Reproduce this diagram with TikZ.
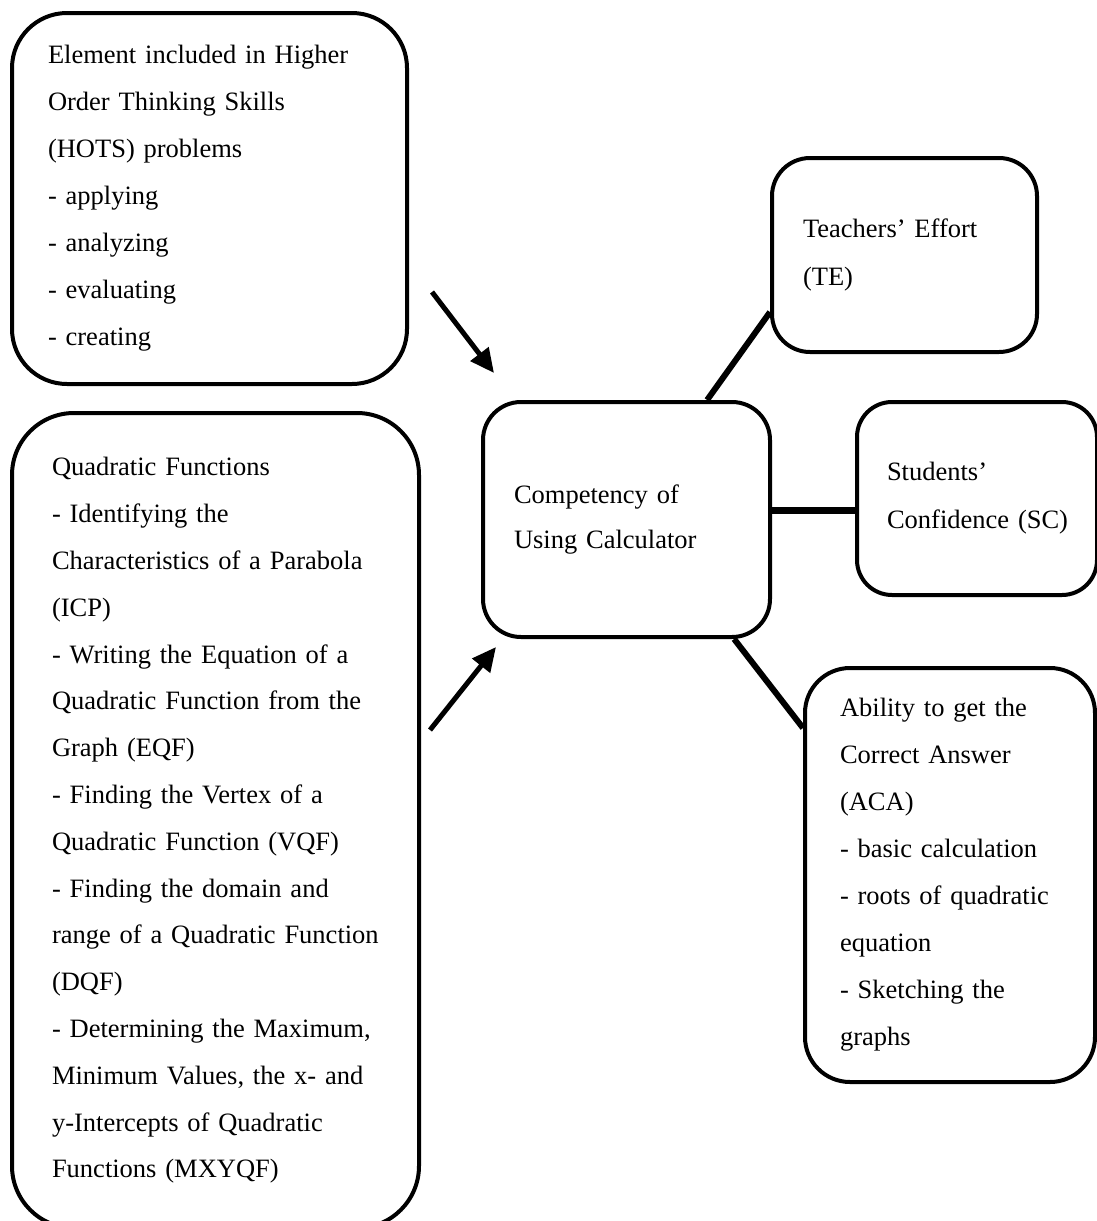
\documentclass[tikz,border=0pt]{standalone}
\usepackage{fontspec}
\setmainfont{Liberation Serif}
\usetikzlibrary{arrows.meta}
\begin{document}
\begin{tikzpicture}[x=1pt,y=-1pt,
  every node/.style={font=\fontsize{26.5}{47}\selectfont},
  card/.style={draw, line width=4pt, align=left, inner ysep=0pt},
  link/.style={line width=6pt},
  feed/.style={line width=5pt, -{Triangle[length=24pt,width=22pt]}}]
  \clip (0,0) rectangle (1097,1221);
  \fill[white] (0,0) rectangle (1097,1221);

  % left column: inputs
  \node[card, rounded corners=55pt, minimum width=395pt, minimum height=371pt,
        text width=323pt, inner xsep=36pt] (hots) at (209.5,198.5)
    {Element included in Higher\\Order Thinking Skills\\(HOTS) problems\\- applying\\- analyzing\\- evaluating\\- creating};
  \node[card, rounded corners=62pt, minimum width=407pt, minimum height=815pt,
        text width=327pt, inner xsep=40pt, font=\fontsize{26.5}{46.8}\selectfont] (quad) at (215.5,820.5)
    {Quadratic Functions\\- Identifying the\\\mbox{Characteristics of a Parabola}\\(ICP)\\- Writing the Equation of a\\\mbox{Quadratic Function from the}\\Graph (EQF)\\- Finding the Vertex of a\\\mbox{Quadratic Function (VQF)}\\- Finding the domain and\\\mbox{range of a Quadratic Function}\\(DQF)\\\mbox{- Determining the Maximum,}\\\mbox{Minimum Values, the x- and}\\y-Intercepts of Quadratic\\Functions (MXYQF)};

  % central concept
  \node[card, rounded corners=38pt, minimum width=287pt, minimum height=235pt,
        text width=225pt, inner xsep=31pt, font=\fontsize{26.5}{45}\selectfont] (cen) at (626.5,519.5)
    {Competency of\\\mbox{Using Calculator}};

  % right column: outcomes
  \node[card, rounded corners=38pt, minimum width=265pt, minimum height=194pt,
        text width=203pt, inner xsep=31pt, font=\fontsize{26.5}{48}\selectfont] (te) at (904.5,255)
    {\mbox{Teachers’ Effort}\\(TE)};
  \node[card, rounded corners=35pt, minimum width=240pt, minimum height=193pt,
        text width=180pt, inner xsep=30pt, font=\fontsize{26.5}{48}\selectfont] (sc) at (977,498.5)
    {Students’\\\mbox{Confidence (SC)}};
  \node[card, rounded corners=45pt, minimum width=290pt, minimum height=414pt,
        text width=220pt, inner xsep=35pt] (aca) at (950,875)
    {\mbox{Ability to get the}\\\mbox{Correct Answer}\\(ACA)\\\mbox{- basic calculation}\\\mbox{- roots of quadratic}\\equation\\\mbox{- Sketching the}\\graphs};

  % connectors
  \coordinate (scy) at (0,510);
  \draw[link] (cen.56.3) -- (te.203.3);
  \draw[link, line width=7pt] (cen.east |- scy) -- (sc.west |- scy);
  \draw[link] (cen.312.2) -- (aca.135);

  \coordinate (a1s) at (432,292);
  \coordinate (a1e) at (494,373);
  \coordinate (a2s) at (430,730);
  \coordinate (a2e) at (496,647);
  \draw[feed] (a1s) -- (a1e);
  \draw[feed] (a2s) -- (a2e);
\end{tikzpicture}
\end{document}
